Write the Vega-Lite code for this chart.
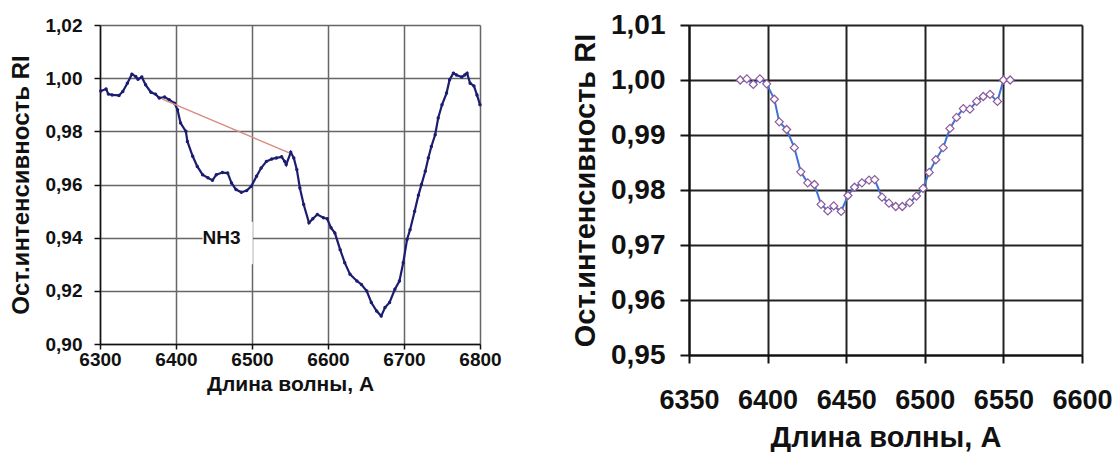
{
  "$schema": "https://vega.github.io/schema/vega-lite/v6.json",
  "background": "white",
  "padding": {"left": 9, "top": 11, "right": 5, "bottom": 0},
  "config": {
    "view": {"stroke": null},
    "font": "Liberation Sans",
    "axis": {
      "labelFontWeight": "bold",
      "titleFontWeight": "bold",
      "labelColor": "#111111",
      "titleColor": "#111111",
      "domainColor": "#111111",
      "tickColor": "#111111",
      "labelFont": "Liberation Sans",
      "titleFont": "Liberation Sans"
    }
  },
  "datasets": {
    "spectrum": [
      {"lam": 6301, "ri": 0.9952}, {"lam": 6308, "ri": 0.9959}, {"lam": 6311, "ri": 0.9940}, {"lam": 6316, "ri": 0.9937},
      {"lam": 6325, "ri": 0.9935}, {"lam": 6330, "ri": 0.9950}, {"lam": 6336, "ri": 0.9981}, {"lam": 6342, "ri": 1.0015},
      {"lam": 6347, "ri": 1.0006}, {"lam": 6350, "ri": 0.9996}, {"lam": 6355, "ri": 1.0004}, {"lam": 6360, "ri": 0.9975},
      {"lam": 6367, "ri": 0.9947}, {"lam": 6373, "ri": 0.9940}, {"lam": 6378, "ri": 0.9925}, {"lam": 6385, "ri": 0.9929},
      {"lam": 6391, "ri": 0.9919}, {"lam": 6398, "ri": 0.9906}, {"lam": 6402, "ri": 0.9881}, {"lam": 6406, "ri": 0.9831},
      {"lam": 6413, "ri": 0.9800}, {"lam": 6415, "ri": 0.9762}, {"lam": 6422, "ri": 0.9706}, {"lam": 6428, "ri": 0.9668},
      {"lam": 6435, "ri": 0.9637}, {"lam": 6442, "ri": 0.9625}, {"lam": 6448, "ri": 0.9616}, {"lam": 6453, "ri": 0.9637},
      {"lam": 6461, "ri": 0.9645}, {"lam": 6468, "ri": 0.9643}, {"lam": 6473, "ri": 0.9606}, {"lam": 6479, "ri": 0.9581},
      {"lam": 6486, "ri": 0.9571}, {"lam": 6493, "ri": 0.9577}, {"lam": 6499, "ri": 0.9593}, {"lam": 6506, "ri": 0.9631},
      {"lam": 6512, "ri": 0.9662}, {"lam": 6519, "ri": 0.9687}, {"lam": 6526, "ri": 0.9696}, {"lam": 6532, "ri": 0.9700},
      {"lam": 6539, "ri": 0.9704}, {"lam": 6543, "ri": 0.9687}, {"lam": 6545, "ri": 0.9675}, {"lam": 6551, "ri": 0.9721},
      {"lam": 6555, "ri": 0.9700}, {"lam": 6559, "ri": 0.9656}, {"lam": 6563, "ri": 0.9587}, {"lam": 6568, "ri": 0.9525},
      {"lam": 6575, "ri": 0.9456}, {"lam": 6580, "ri": 0.9471}, {"lam": 6586, "ri": 0.9487}, {"lam": 6594, "ri": 0.9475},
      {"lam": 6599, "ri": 0.9471}, {"lam": 6604, "ri": 0.9437}, {"lam": 6609, "ri": 0.9418}, {"lam": 6616, "ri": 0.9355},
      {"lam": 6622, "ri": 0.9306}, {"lam": 6629, "ri": 0.9262}, {"lam": 6638, "ri": 0.9237}, {"lam": 6644, "ri": 0.9224},
      {"lam": 6651, "ri": 0.9199}, {"lam": 6657, "ri": 0.9156}, {"lam": 6664, "ri": 0.9124}, {"lam": 6670, "ri": 0.9105},
      {"lam": 6675, "ri": 0.9137}, {"lam": 6681, "ri": 0.9156}, {"lam": 6688, "ri": 0.9206}, {"lam": 6694, "ri": 0.9237},
      {"lam": 6699, "ri": 0.9306}, {"lam": 6704, "ri": 0.9393}, {"lam": 6708, "ri": 0.9430}, {"lam": 6714, "ri": 0.9499},
      {"lam": 6719, "ri": 0.9560}, {"lam": 6723, "ri": 0.9600}, {"lam": 6728, "ri": 0.9650}, {"lam": 6732, "ri": 0.9700},
      {"lam": 6736, "ri": 0.9743}, {"lam": 6741, "ri": 0.9787}, {"lam": 6745, "ri": 0.9850}, {"lam": 6750, "ri": 0.9900},
      {"lam": 6756, "ri": 0.9944}, {"lam": 6760, "ri": 0.9994}, {"lam": 6765, "ri": 1.0019}, {"lam": 6769, "ri": 1.0012},
      {"lam": 6776, "ri": 1.0004}, {"lam": 6780, "ri": 1.0012}, {"lam": 6783, "ri": 1.0019}, {"lam": 6787, "ri": 0.9981},
      {"lam": 6792, "ri": 0.9971}, {"lam": 6796, "ri": 0.9937}, {"lam": 6800, "ri": 0.9900}
    ],
    "continuum": [
      {"lam": 6382, "ri": 0.9921}, {"lam": 6549, "ri": 0.9719}
    ],
    "labelBox": [
      {"lam": 6435, "lam2": 6501, "ri": 0.930, "ri2": 0.946}
    ],
    "label": [
      {"lam": 6460, "ri": 0.940, "text": "NH3"}
    ],
    "band": [
      {"lam": 6382.6, "ri": 1.0000}, {"lam": 6386.8, "ri": 1.0002}, {"lam": 6390.9, "ri": 0.9992}, {"lam": 6395.1, "ri": 1.0002},
      {"lam": 6399.4, "ri": 0.9993}, {"lam": 6404.3, "ri": 0.9965}, {"lam": 6407.4, "ri": 0.9924}, {"lam": 6412.1, "ri": 0.9910},
      {"lam": 6417.0, "ri": 0.9877}, {"lam": 6421.1, "ri": 0.9833}, {"lam": 6425.5, "ri": 0.9813}, {"lam": 6429.8, "ri": 0.9810},
      {"lam": 6434.0, "ri": 0.9774}, {"lam": 6438.3, "ri": 0.9762}, {"lam": 6442.1, "ri": 0.9771}, {"lam": 6446.8, "ri": 0.9761},
      {"lam": 6451.1, "ri": 0.9790}, {"lam": 6455.3, "ri": 0.9805}, {"lam": 6460.0, "ri": 0.9813}, {"lam": 6464.5, "ri": 0.9818},
      {"lam": 6468.1, "ri": 0.9819}, {"lam": 6472.8, "ri": 0.9787}, {"lam": 6477.2, "ri": 0.9776}, {"lam": 6481.5, "ri": 0.9770},
      {"lam": 6485.7, "ri": 0.9770}, {"lam": 6490.4, "ri": 0.9777}, {"lam": 6494.7, "ri": 0.9789}, {"lam": 6498.9, "ri": 0.9803},
      {"lam": 6502.8, "ri": 0.9832}, {"lam": 6507.0, "ri": 0.9855}, {"lam": 6511.7, "ri": 0.9877}, {"lam": 6516.0, "ri": 0.9912},
      {"lam": 6520.2, "ri": 0.9932}, {"lam": 6524.5, "ri": 0.9948}, {"lam": 6528.7, "ri": 0.9947}, {"lam": 6533.0, "ri": 0.9961},
      {"lam": 6537.2, "ri": 0.9970}, {"lam": 6541.5, "ri": 0.9974}, {"lam": 6546.2, "ri": 0.9961}, {"lam": 6550.0, "ri": 1.0000},
      {"lam": 6554.3, "ri": 1.0000}
    ]
  },
  "spacing": 69,
  "hconcat": [
    {
      "width": 380,
      "height": 319,
      "encoding": {
        "x": {
          "field": "lam", "type": "quantitative",
          "scale": {"domain": [6300, 6800], "nice": false, "zero": false},
          "axis": {
            "title": "Длина волны, А", "values": [6300, 6400, 6500, 6600, 6700, 6800], "format": "d",
            "labelFontSize": 19, "titleFontSize": 21, "grid": true, "gridColor": "#666666", "gridWidth": 1.5,
            "tickSize": 5, "labelPadding": 1, "titlePadding": 4, "domainWidth": 1.5, "tickWidth": 1.5, "labelFlush": false
          }
        },
        "y": {
          "field": "ri", "type": "quantitative",
          "scale": {"domain": [0.9, 1.02], "nice": false, "zero": false},
          "axis": {
            "title": "Ост.интенсивность  RI", "values": [0.90, 0.92, 0.94, 0.96, 0.98, 1.00, 1.02],
            "labelExpr": "replace(format(datum.value, '.2f'), '.', ',')",
            "labelFontSize": 19, "titleFontSize": 24, "grid": true, "gridColor": "#666666", "gridWidth": 1.5,
            "tickSize": 6, "labelPadding": 12, "titlePadding": 12, "domainWidth": 1.5, "tickWidth": 1.5, "labelFlush": false
          }
        }
      },
      "layer": [
        {"data": {"name": "labelBox"}, "mark": {"type": "rect", "fill": "white"}, "encoding": {"x2": {"field": "lam2"}, "y2": {"field": "ri2"}}},
        {"data": {"name": "spectrum"}, "mark": {"type": "line", "color": "#1c1c70", "strokeWidth": 2.2, "point": {"filled": true, "size": 12, "color": "#1c1c70"}}},
        {"data": {"name": "continuum"}, "mark": {"type": "line", "color": "#d98b80", "strokeWidth": 1.5}},
        {"data": {"name": "label"}, "mark": {"type": "text", "fontSize": 19, "fontWeight": "bold", "color": "#111111", "font": "Liberation Sans"}, "encoding": {"text": {"field": "text"}}}
      ]
    },
    {
      "width": 393,
      "height": 330,
      "data": {"name": "band"},
      "mark": {"type": "line", "color": "#3f72d4", "strokeWidth": 2, "point": {"shape": "diamond", "filled": true, "fill": "white", "stroke": "#8a5a9e", "strokeWidth": 1.2, "size": 65}},
      "encoding": {
        "x": {
          "field": "lam", "type": "quantitative",
          "scale": {"domain": [6350, 6600], "nice": false, "zero": false},
          "axis": {
            "title": "Длина волны, А", "values": [6350, 6400, 6450, 6500, 6550, 6600], "format": "d",
            "labelFontSize": 27, "titleFontSize": 29, "grid": true, "gridColor": "#222222", "gridWidth": 2,
            "tickSize": 8, "labelPadding": 24, "titlePadding": 10, "domainWidth": 2, "tickWidth": 2, "labelFlush": false
          }
        },
        "y": {
          "field": "ri", "type": "quantitative",
          "scale": {"domain": [0.95, 1.01], "nice": false, "zero": false},
          "axis": {
            "title": "Ост.интенсивность  RI", "values": [0.95, 0.96, 0.97, 0.98, 0.99, 1.00, 1.01],
            "labelExpr": "replace(format(datum.value, '.2f'), '.', ',')",
            "labelFontSize": 28, "titleFontSize": 29, "grid": true, "gridColor": "#222222", "gridWidth": 2,
            "tickSize": 9, "labelPadding": 15, "titlePadding": 10, "domainWidth": 2, "tickWidth": 2, "labelFlush": false
          }
        }
      }
    }
  ]
}
